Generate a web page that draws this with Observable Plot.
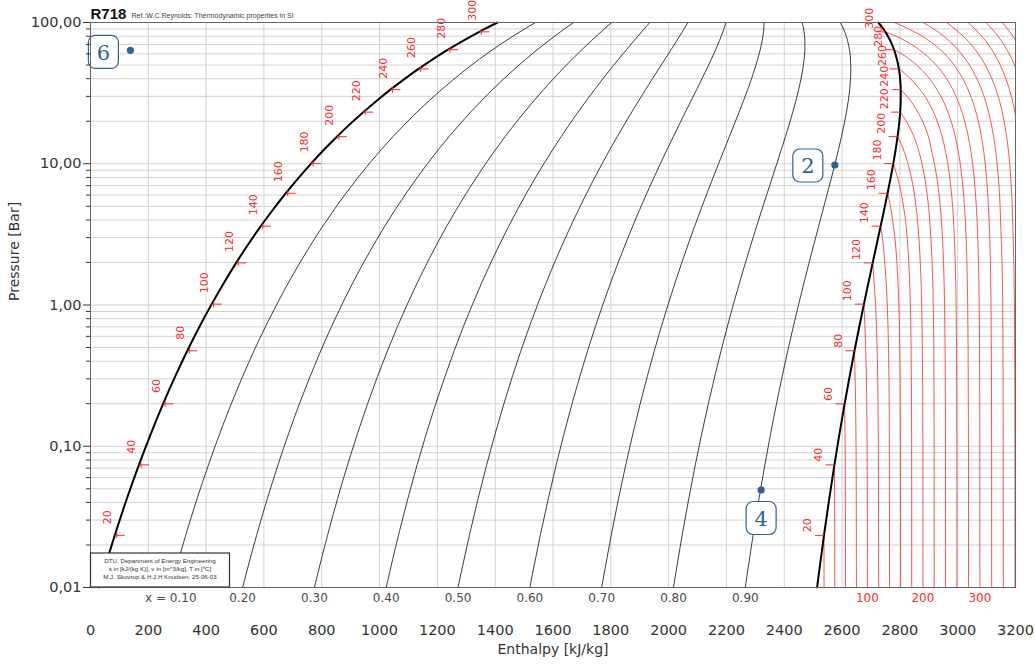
<!DOCTYPE html>
<html><head><meta charset="utf-8">
<script src="https://cdn.jsdelivr.net/npm/d3@7"></script>
<script src="https://cdn.jsdelivr.net/npm/@observablehq/plot@0.6"></script>
<style>body{margin:0;background:#fff;} svg{display:block}</style>
</head><body><div id="chart"></div>
<script>
// ---- Saturation data ----
const satT  = [6.97, 10, 20, 30, 40, 50, 60, 70, 80, 90, 100, 110, 120, 130, 140, 150, 160, 170, 180, 190, 200, 210, 220, 230, 240, 250, 260, 270, 280, 290, 300, 303.35, 311.0];
const satP  = [0.01, 0.012282, 0.023393, 0.04247, 0.073849, 0.12352, 0.19946, 0.31201, 0.47416, 0.70182, 1.0142, 1.4338, 1.9867, 2.7028, 3.6154, 4.7616, 6.1823, 7.9219, 10.028, 12.552, 15.549, 19.077, 23.196, 27.971, 33.469, 39.762, 46.923, 55.03, 64.166, 74.418, 85.879, 90.0, 100.0];
const satHf = [29.3, 42.0, 83.9, 125.7, 167.5, 209.3, 251.1, 293.0, 334.9, 376.9, 419.2, 461.4, 503.8, 546.4, 589.2, 632.3, 675.6, 719.2, 763.1, 807.4, 852.3, 897.6, 943.6, 990.4, 1037.6, 1085.8, 1134.9, 1185.1, 1236.9, 1290.0, 1345.0, 1363.7, 1408.1];
const satHg = [2513.7, 2519.2, 2537.4, 2555.6, 2573.5, 2591.3, 2608.8, 2626.1, 2643.0, 2659.5, 2675.6, 2691.1, 2705.9, 2720.1, 2733.4, 2745.9, 2757.4, 2767.9, 2777.2, 2785.3, 2792.0, 2797.3, 2801.0, 2802.9, 2803.0, 2800.9, 2796.6, 2789.7, 2779.9, 2766.7, 2749.6, 2742.9, 2725.5];

// ---- Vapour quality lines ----
const qualities = [0.1, 0.2, 0.3, 0.4, 0.5, 0.6, 0.7, 0.8, 0.9];
const qualityLabels = ["x = 0.10", "0.20", "0.30", "0.40", "0.50", "0.60", "0.70", "0.80", "0.90"];

// ---- Isotherms in the superheated region: [pressure bar, enthalpy kJ/kg] ----
const isoT = [20, 40, 60, 80, 100, 120, 140, 160, 180, 200, 220, 240, 260, 280, 300, 320, 340, 360, 380, 400, 420];
const iso20  = [[0.02339, 2537.4], [0.01, 2537.7]];
const iso40  = [[0.07385, 2573.5], [0.05, 2574.0], [0.02, 2574.6], [0.01, 2574.8]];
const iso60  = [[0.1995, 2608.8], [0.1, 2610.6], [0.05, 2611.4], [0.02, 2612.0], [0.01, 2612.2]];
const iso80  = [[0.4742, 2643.0], [0.2, 2646.9], [0.1, 2648.4], [0.05, 2649.1], [0.02, 2649.5], [0.01, 2649.7]];
const iso100 = [[1.0142, 2675.6], [0.5, 2681.8], [0.2, 2685.5], [0.1, 2686.7], [0.05, 2687.3], [0.02, 2687.7], [0.01, 2687.8]];
const iso120 = [[1.9867, 2705.9], [1, 2716.1], [0.5, 2721.3], [0.2, 2724.4], [0.1, 2725.5], [0.05, 2726.0], [0.01, 2726.4]];
const iso140 = [[3.6154, 2733.4], [3, 2739.5], [2, 2747.8], [1, 2756.5], [0.5, 2760.6], [0.2, 2763.0], [0.1, 2763.6], [0.01, 2764.2]];
const iso160 = [[6.1823, 2757.4], [5, 2767.5], [4, 2775.0], [3, 2782.6], [2, 2789.7], [1, 2796.5], [0.5, 2799.7], [0.2, 2801.4], [0.1, 2802.0], [0.01, 2802.4]];
const iso180 = [[10.028, 2777.2], [8, 2792.0], [6, 2806.0], [5, 2812.5], [4, 2819.5], [3, 2825.3], [2, 2830.9], [1, 2836.3], [0.5, 2838.8], [0.1, 2840.8], [0.01, 2841.0]];
const iso200 = [[15.549, 2792.0], [14, 2803.0], [12, 2816.1], [10, 2828.3], [8, 2839.8], [6, 2850.6], [4, 2860.9], [2, 2870.7], [1, 2875.5], [0.5, 2877.8], [0.1, 2879.6], [0.01, 2879.8]];
const iso220 = [[23.196, 2801.0], [20, 2822.3], [16, 2846.0], [12, 2867.0], [10, 2876.5], [8, 2885.8], [6, 2894.8], [4, 2903.3], [2, 2911.5], [1, 2915.5], [0.5, 2917.5], [0.1, 2918.6], [0.01, 2918.8]];
const iso240 = [[33.469, 2803.0], [30, 2825.0], [25, 2853.0], [20, 2878.5], [16, 2897.0], [12, 2911.1], [10, 2919.6], [8, 2927.9], [6, 2935.9], [4, 2943.6], [2, 2951.0], [1, 2954.6], [0.5, 2956.5], [0.1, 2957.9], [0.01, 2958.1]];
const iso260 = [[46.923, 2796.6], [45, 2808.8], [40, 2836.5], [35, 2862.0], [30, 2887.0], [25, 2909.0], [20, 2929.3], [16, 2944.5], [12, 2958.9], [10, 2965.8], [8, 2972.5], [6, 2979.2], [4, 2985.5], [2, 2991.7], [1, 2994.7], [0.5, 2996.0], [0.1, 2997.1], [0.01, 2997.3]];
const iso280 = [[64.166, 2779.9], [60, 2805.7], [50, 2857.9], [45, 2881.2], [40, 2902.8], [35, 2922.5], [30, 2942.0], [25, 2960.3], [20, 2977.3], [16, 2990.3], [12, 3002.8], [10, 3008.9], [8, 3014.8], [6, 3020.6], [4, 3026.4], [2, 3031.9], [1, 3034.6], [0.5, 3036.0], [0.1, 3037.3], [0.01, 3037.5]];
const iso300 = [[85.879, 2749.6], [80, 2786.8], [70, 2839.9], [60, 2885.5], [50, 2925.7], [45, 2944.2], [40, 2961.7], [35, 2978.4], [30, 2994.3], [25, 3009.6], [20, 3024.2], [16, 3035.4], [12, 3046.3], [10, 3051.6], [8, 3056.9], [6, 3062.0], [4, 3067.1], [2, 3072.1], [1, 3074.5], [0.5, 3075.8], [0.1, 3076.7], [0.01, 3076.9]];
const iso320 = [[100, 2781.0], [90, 2831.0], [80, 2877.0], [70, 2918.0], [60, 2955.0], [50, 2987.5], [40, 3017.7], [30, 3045.5], [20, 3071.3], [16, 3081.0], [12, 3090.6], [10, 3095.2], [8, 3099.8], [6, 3104.3], [4, 3108.8], [2, 3113.2], [1, 3115.4], [0.1, 3117.4], [0.01, 3117.6]];
const iso340 = [[100, 2880.0], [90, 2917.6], [80, 2951.6], [70, 2983.4], [60, 3012.9], [50, 3040.6], [40, 3066.5], [30, 3091.1], [20, 3114.3], [16, 3123.2], [12, 3132.1], [10, 3136.4], [8, 3140.7], [6, 3144.9], [4, 3148.4], [2, 3153.4], [1, 3155.8], [0.1, 3157.6], [0.01, 3157.8]];
const iso360 = [[100, 2962.0], [90, 2990.6], [80, 3019.1], [70, 3045.9], [60, 3071.4], [50, 3095.5], [40, 3118.3], [30, 3140.0], [20, 3160.6], [16, 3168.5], [12, 3176.2], [10, 3179.9], [8, 3183.6], [6, 3187.2], [4, 3190.1], [2, 3194.2], [1, 3196.4], [0.1, 3198.0], [0.01, 3198.2]];
const iso380 = [[100, 3035.5], [90, 3059.8], [80, 3083.4], [70, 3105.6], [60, 3126.9], [50, 3147.3], [40, 3166.9], [30, 3185.7], [20, 3204.0], [16, 3211.1]];
const iso400 = [[100, 3097.5], [90, 3118.8], [80, 3139.4], [70, 3159.2], [60, 3178.3], [50, 3196.7], [40, 3214.5]];
const iso420 = [[100, 3154.5], [90, 3172.8], [80, 3191.4], [70, 3209.2], [60, 3226.0]];
const isoCurves = [iso20, iso40, iso60, iso80, iso100, iso120, iso140, iso160, iso180, iso200, iso220, iso240, iso260, iso280, iso300, iso320, iso340, iso360, iso380, iso400, iso420];
const isoLabelT = [100, 200, 300];

// ---- Temperature marks on the saturation curves ----
const tempTickT = [20, 40, 60, 80, 100, 120, 140, 160, 180, 200, 220, 240, 260, 280, 300];

// ---- State points ----
const pointNames = ["6", "2", "4"];
const pointH = [138, 2575, 2320];
const pointP = [63.5, 9.8, 0.049];

// ---- Axis ticks ----
const xTicks = [0, 200, 400, 600, 800, 1000, 1200, 1400, 1600, 1800, 2000, 2200, 2400, 2600, 2800, 3000, 3200];
const yMajor = [0.01, 0.1, 1, 10, 100];
const yMinorMult = [2, 3, 4, 5, 6, 7, 8, 9];

// ---- Derived tables ----
const sat = satT.map((T, i) => ({T, p: satP[i], hf: satHf[i], hg: satHg[i]}));
const qualityRows = qualities.flatMap(q => sat.map(s => ({q, p: s.p, h: s.hf + q * (s.hg - s.hf)})));
const isoRows = isoT.flatMap((T, k) => isoCurves[k].map(([p, h]) => ({T, p, h})));
const tempTicks = tempTickT.map(T => sat.find(s => s.T === T));
const qualityBottom = qualities.map((q, k) => ({label: qualityLabels[k], p: sat[0].p, h: sat[0].hf + q * (sat[0].hg - sat[0].hf)}));
const isoBottom = isoLabelT.map(T => { const c = isoCurves[isoT.indexOf(T)]; const last = c[c.length - 1]; return {label: String(T), p: last[0], h: last[1]}; });
const yMinor = yMajor.slice(0, 4).flatMap(d => yMinorMult.map(m => +(m * d).toPrecision(3)));
const yGrid = yMajor.slice(0, 4).flatMap(d => [1, ...yMinorMult].map(m => +(m * d).toPrecision(3))).concat([100]);
const points = pointNames.map((n, i) => ({name: n, h: pointH[i], p: pointP[i]}));

// ---- Styles ----
const RED = "#ff2a2a";
const BLUE = "#2f6294";
const liqTickSym = {draw(ctx) { ctx.moveTo(0, 0); ctx.lineTo(10, 0); ctx.moveTo(2, -3); ctx.lineTo(2, 3); }};
const vapTickSym = {draw(ctx) { ctx.moveTo(-9, 0); ctx.lineTo(0, 0); }};
const boxSym = {draw(ctx) {
  const w = 15, h = 16.5, r = 7;
  ctx.moveTo(-w + r, -h); ctx.lineTo(w - r, -h); ctx.arcTo(w, -h, w, -h + r, r);
  ctx.lineTo(w, h - r); ctx.arcTo(w, h, w - r, h, r);
  ctx.lineTo(-w + r, h); ctx.arcTo(-w, h, -w, h - r, r);
  ctx.lineTo(-w, -h + r); ctx.arcTo(-w, -h, -w + r, -h, r); ctx.closePath();
}};
const labelOffset = {"6": [-27, 1.5], "2": [-27, 0.5], "4": [0, 28]};

const pointMarks = points.flatMap(pt => {
  const [dx, dy] = labelOffset[pt.name];
  return [
    Plot.dot([pt], {x: "h", y: "p", symbol: boxSym, r: 5, fill: "white", stroke: BLUE, strokeWidth: 1.2, dx, dy}),
    Plot.text([pt], {x: "h", y: "p", text: "name", fill: BLUE, fontSize: 21, fontFamily: "DejaVu Serif", dx, dy: dy + 1}),
    Plot.dot([pt], {x: "h", y: "p", r: 3.6, fill: BLUE, stroke: "none"})
  ];
});

const plot = Plot.plot({
  width: 1035, height: 664,
  marginLeft: 90, marginRight: 20, marginTop: 22, marginBottom: 77,
  style: {fontFamily: "DejaVu Sans, sans-serif", background: "white", color: "#333", overflow: "visible"},
  x: {domain: [0, 3200]},
  y: {type: "log", domain: [0.01, 100]},
  marks: [
    Plot.gridX({ticks: xTicks, stroke: "#d2d2d2", strokeOpacity: 1, strokeWidth: 1}),
    Plot.gridY({ticks: yGrid, stroke: "#d2d2d2", strokeOpacity: 1, strokeWidth: 1}),
    Plot.line(isoRows, {x: "h", y: "p", z: "T", stroke: RED, strokeWidth: 0.9, strokeOpacity: 0.9, curve: "monotone-y", clip: true}),
    Plot.line(qualityRows, {x: "h", y: "p", z: "q", stroke: "#1a1a1a", strokeWidth: 0.85, curve: "monotone-y"}),
    Plot.line(sat, {x: "hf", y: "p", stroke: "black", strokeWidth: 2, curve: "monotone-y"}),
    Plot.line(sat, {x: "hg", y: "p", stroke: "black", strokeWidth: 2, curve: "monotone-y"}),
    Plot.dot(tempTicks, {x: "hf", y: "p", symbol: liqTickSym, r: 4, fill: "none", stroke: RED, strokeWidth: 1}),
    Plot.dot(tempTicks, {x: "hg", y: "p", symbol: vapTickSym, r: 4, fill: "none", stroke: RED, strokeWidth: 1}),
    Plot.text(tempTicks, {x: "hf", y: "p", text: d => String(d.T), rotate: -90, textAnchor: "start", dx: -7, dy: -11, fill: RED, fontSize: 11}),
    Plot.text(tempTicks, {x: "hg", y: "p", text: d => String(d.T), rotate: -90, textAnchor: "start", dx: -16, dy: -3, fill: RED, fontSize: 11}),
    Plot.text(qualityBottom, {x: "h", y: "p", text: "label", dy: 11, fill: "#4a4a4a", fontSize: 12}),
    Plot.text(isoBottom, {x: "h", y: "p", text: "label", dy: 11, fill: RED, fontSize: 12}),
    ...pointMarks,
    Plot.frame({stroke: "#666", strokeWidth: 1}),
    Plot.axisX({ticks: xTicks, tickSize: 0, tickPadding: 37, fontSize: 14.5, tickFormat: d => String(d), label: null}),
    Plot.axisY({ticks: yMajor, tickSize: 7, tickPadding: 2, fontSize: 14.5, tickFormat: d => d.toFixed(2).replace(".", ","), label: null}),
    Plot.axisY({ticks: yMinor, tickSize: 4, tickFormat: () => "", label: null}),
    Plot.text(["Pressure [Bar]"], {frameAnchor: "left", rotate: -90, dx: -76, dy: -4, text: d => d, fontSize: 14, fill: "#333"}),
    Plot.text(["Enthalpy [kJ/kg]"], {frameAnchor: "bottom", dy: 66, text: d => d, fontSize: 14, fill: "#333"}),
    Plot.text(["R718"], {frameAnchor: "top-left", textAnchor: "start", lineAnchor: "bottom", dy: -4, text: d => d, fontSize: 15, fontWeight: "bold", fontFamily: "Liberation Sans", fill: "#111"}),
    Plot.text(["Ref.:W.C.Reynolds: Thermodynamic properties in SI"], {frameAnchor: "top-left", textAnchor: "start", lineAnchor: "bottom", dx: 41, dy: -5, text: d => d, fontSize: 7, fontFamily: "Liberation Sans", fill: "#444"})
  ]
});

// Info box (annotation) in the lower-left corner
const svg = d3.select(plot);
const g = svg.append("g");
g.append("rect").attr("x", 90.5).attr("y", 553).attr("width", 139).attr("height", 34).attr("fill", "white").attr("stroke", "#333").attr("stroke-width", 1.2);
const infoLines = ["DTU, Department of Energy Engineering", "s in [kJ/(kg K)], v in [m^3/kg], T in [ºC]", "M.J. Skovrup & H.J.H Knudsen. 25-06-03"];
infoLines.forEach((t, i) => {
  g.append("text").attr("x", 160).attr("y", 563 + i * 8).attr("text-anchor", "middle")
    .attr("font-size", 6.2).attr("font-family", "Liberation Sans, sans-serif").attr("fill", "#333").text(t);
});

document.getElementById("chart").appendChild(plot);
</script>
</body></html>
